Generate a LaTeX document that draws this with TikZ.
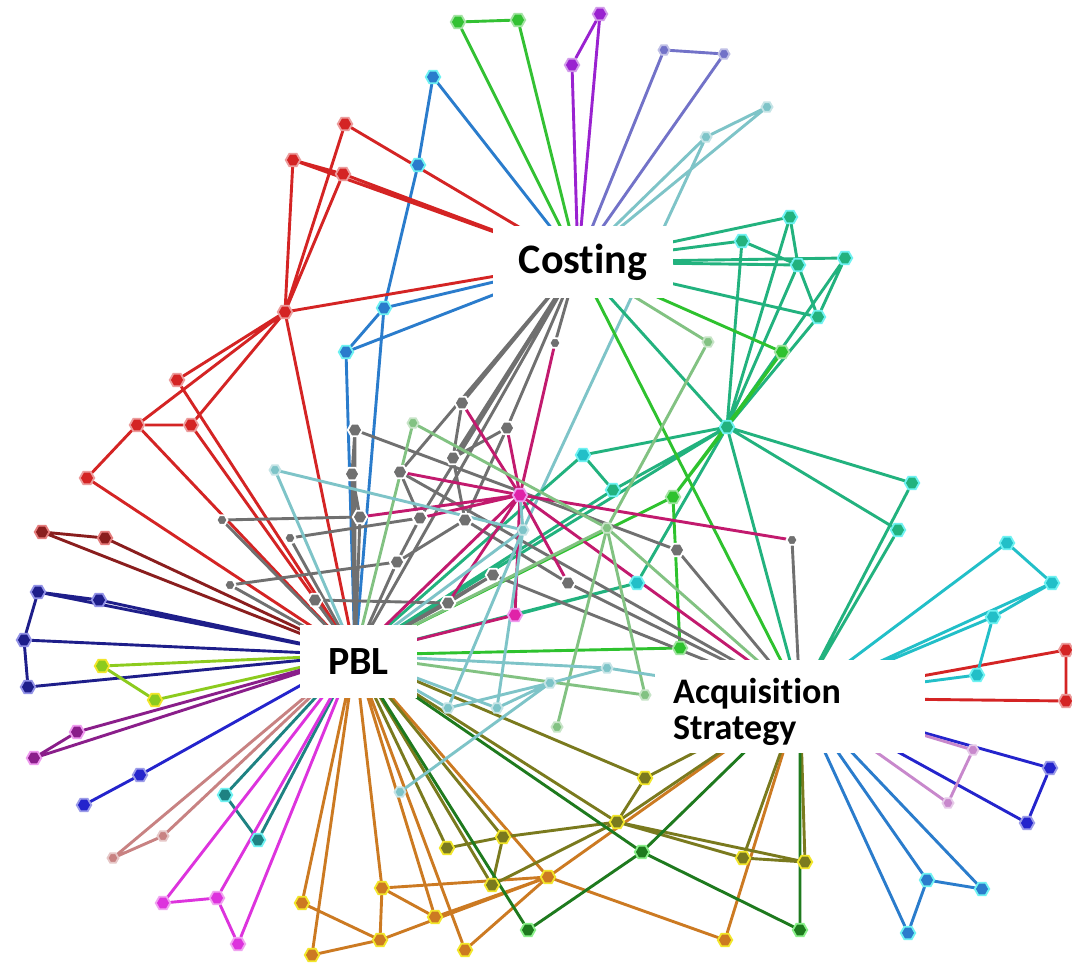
\documentclass[tikz,border=0pt]{standalone}
\usepackage{fontspec}
\newfontfamily\labfont{Carlito}[Ligatures=NoCommon]
\usetikzlibrary{shapes.geometric}
\definecolor{cRed}{HTML}{D42424}
\definecolor{cDRed}{HTML}{8A1E1E}
\definecolor{cNavy}{HTML}{1E1E8A}
\definecolor{cYG}{HTML}{8CCB1E}
\definecolor{cPurp}{HTML}{8A1E8A}
\definecolor{cBlue}{HTML}{2424CC}
\definecolor{cRosy}{HTML}{C88282}
\definecolor{cTeal}{HTML}{1E8282}
\definecolor{cMag}{HTML}{DD33DD}
\definecolor{cOrange}{HTML}{CC7A22}
\definecolor{cOlive}{HTML}{7A7A1E}
\definecolor{cDGreen}{HTML}{1E7A1E}
\definecolor{cSteel}{HTML}{2A7CCC}
\definecolor{cCyan}{HTML}{22BFC8}
\definecolor{cSea}{HTML}{22B27E}
\definecolor{cLime}{HTML}{2EC22E}
\definecolor{cLGreen}{HTML}{82C282}
\definecolor{cLTeal}{HTML}{7EC4C8}
\definecolor{cGray}{HTML}{707070}
\definecolor{cCrim}{HTML}{C21A6E}
\definecolor{cHub}{HTML}{E022A8}
\definecolor{cSlate}{HTML}{7272C8}
\definecolor{cGreen}{HTML}{33C133}
\definecolor{cViolet}{HTML}{9A22D0}
\definecolor{cOrchid}{HTML}{C888CC}
\definecolor{cHaloY}{HTML}{F2E62A}
\definecolor{cHaloC}{HTML}{6EF2F2}
\definecolor{cHaloG}{HTML}{8AF08A}
\pgfdeclarelayer{paper}
\pgfdeclarelayer{links}
\pgfsetlayers{paper,links,main}
\tikzset{
  nd/.style={regular polygon, regular polygon sides=6, minimum size=14.5pt,
    inner sep=0pt, fill=#1, draw=#1!45!white, line width=1.8pt},
  sm/.style={minimum size=11pt},
  ed/.style={draw=#1, line width=2.9pt, line cap=round},
  box/.style={fill=white, inner sep=0pt, font=\labfont\bfseries},
}
\begin{document}
\begin{tikzpicture}[x=1pt,y=-1pt]
\begin{pgfonlayer}{paper}
\fill[white] (0,0) rectangle (1072,965);
\end{pgfonlayer}
\useasboundingbox (0,0) rectangle (1072,965);

% hub points behind the label boxes
\coordinate (C) at (578,262);
\coordinate (P) at (355,655);
\coordinate (A) at (800,698);

% ---- nodes around Costing (top)
\node[nd=cGreen] (g1) at (458,22) {};
\node[nd=cGreen] (g2) at (518,20) {};
\node[nd=cViolet] (pu1) at (600,14) {};
\node[nd=cViolet] (pu2) at (572,65) {};
\node[nd=cSlate,sm] (sb1) at (664,50) {};
\node[nd=cSlate,sm] (sb2) at (724,54) {};
\node[nd=cLTeal,sm] (tl1) at (767,107) {};
\node[nd=cLTeal,sm] (tl2) at (706,137) {};
\node[nd=cSteel,draw=cHaloC] (b1) at (433,77) {};
\node[nd=cSteel,draw=cHaloC] (b2) at (418,165) {};
\node[nd=cSteel,draw=cHaloC] (b3) at (384,308) {};
\node[nd=cSteel,draw=cHaloC] (b4) at (346,352) {};
% red group
\node[nd=cRed] (r1) at (345,124) {};
\node[nd=cRed] (r2) at (293,160) {};
\node[nd=cRed] (r3) at (343,174) {};
\node[nd=cRed] (r4) at (285,312) {};
\node[nd=cRed] (r5) at (177,380) {};
\node[nd=cRed] (r6) at (137,425) {};
\node[nd=cRed] (r7) at (191,425) {};
\node[nd=cRed] (r8) at (87,478) {};
% groups around PBL
\node[nd=cDRed,draw=cRed!60!white] (dr1) at (42,532) {};
\node[nd=cDRed,draw=cRed!60!white] (dr2) at (105,538) {};
\node[nd=cNavy,draw=cBlue!50!white] (n1) at (38,592) {};
\node[nd=cNavy,draw=cBlue!50!white] (n2) at (99,600) {};
\node[nd=cNavy,draw=cBlue!50!white] (n3) at (24,640) {};
\node[nd=cNavy,draw=cBlue!50!white] (n4) at (28,687) {};
\node[nd=cYG,draw=cHaloY] (yg1) at (102,666) {};
\node[nd=cYG,draw=cHaloY] (yg2) at (155,700) {};
\node[nd=cPurp,draw=cMag!50!white] (pm1) at (77,732) {};
\node[nd=cPurp,draw=cMag!50!white] (pm2) at (34,758) {};
\node[nd=cBlue] (bl1) at (140,775) {};
\node[nd=cBlue] (bl2) at (84,805) {};
\node[nd=cRosy,sm] (rb1) at (163,836) {};
\node[nd=cRosy,sm] (rb2) at (113,858) {};
\node[nd=cTeal,draw=cHaloC] (td1) at (225,795) {};
\node[nd=cTeal,draw=cHaloC] (td2) at (258,840) {};
\node[nd=cMag] (m1) at (163,903) {};
\node[nd=cMag] (m2) at (217,898) {};
\node[nd=cMag] (m3) at (238,944) {};
% bottom groups
\node[nd=cOrange,draw=cHaloY] (o1) at (302,903) {};
\node[nd=cOrange,draw=cHaloY] (o2) at (312,955) {};
\node[nd=cOrange,draw=cHaloY] (o3) at (382,888) {};
\node[nd=cOrange,draw=cHaloY] (o4) at (435,917) {};
\node[nd=cOrange,draw=cHaloY] (o5) at (380,940) {};
\node[nd=cOrange,draw=cHaloY] (o6) at (465,950) {};
\node[nd=cOrange,draw=cHaloY] (o7) at (548,877) {};
\node[nd=cOrange,draw=cHaloY] (o8) at (725,940) {};
\node[nd=cOlive,draw=cHaloY] (ol1) at (447,848) {};
\node[nd=cOlive,draw=cHaloY] (ol2) at (503,837) {};
\node[nd=cOlive,draw=cHaloY] (ol3) at (492,885) {};
\node[nd=cOlive,draw=cHaloY] (ol4) at (617,822) {};
\node[nd=cOlive,draw=cHaloY] (ol5) at (645,778) {};
\node[nd=cOlive,draw=cHaloY] (ol6) at (743,858) {};
\node[nd=cOlive,draw=cHaloY] (ol7) at (805,862) {};
\node[nd=cDGreen,draw=cHaloG] (dg1) at (642,852) {};
\node[nd=cDGreen,draw=cHaloG] (dg2) at (528,930) {};
\node[nd=cDGreen,draw=cHaloG] (dg3) at (800,930) {};
% groups around Acquisition Strategy
\node[nd=cSteel,draw=cHaloC] (sa) at (927,880) {};
\node[nd=cSteel,draw=cHaloC] (sbb) at (982,889) {};
\node[nd=cSteel,draw=cHaloC] (sc) at (908,933) {};
\node[nd=cBlue] (nb1) at (1050,768) {};
\node[nd=cBlue] (nb2) at (1027,823) {};
\node[nd=cOrchid,sm] (or1) at (973,750) {};
\node[nd=cOrchid,sm] (or2) at (948,803) {};
\node[nd=cRed] (rr1) at (1066,650) {};
\node[nd=cRed] (rr2) at (1066,701) {};
\node[nd=cCyan,draw=cHaloC] (c1) at (1007,543) {};
\node[nd=cCyan,draw=cHaloC] (c2) at (1052,583) {};
\node[nd=cCyan,draw=cHaloC] (c3) at (993,617) {};
\node[nd=cCyan,draw=cHaloC] (c4) at (977,675) {};
% sea green group
\node[nd=cSea,draw=cHaloC] (sg1) at (790,217) {};
\node[nd=cSea,draw=cHaloC] (sg2) at (742,241) {};
\node[nd=cSea,draw=cHaloC] (sg3) at (798,265) {};
\node[nd=cSea,draw=cHaloC] (sg4) at (845,258) {};
\node[nd=cSea,draw=cHaloC] (sg5) at (818,317) {};
\node[nd=cSea,draw=cHaloC] (sg6) at (727,427) {};
\node[nd=cSea,draw=cHaloC] (sg7) at (912,483) {};
\node[nd=cSea,draw=cHaloC] (sg8) at (898,530) {};
\node[nd=cLime] (lime1) at (782,352) {};
\node[nd=cLime] (lime2) at (673,497) {};
\node[nd=cLime] (lime3) at (680,648) {};
% middle
\node[nd=cGray,draw=white,sm] (gray1) at (555,343) {};
\node[nd=cGray,draw=white] (gray2) at (462,403) {};
\node[nd=cGray,draw=white] (gray3) at (507,428) {};
\node[nd=cGray,draw=white] (gray4) at (355,430) {};
\node[nd=cGray,draw=white] (gray5) at (453,458) {};
\node[nd=cGray,draw=white] (gray6) at (400,472) {};
\node[nd=cGray,draw=white] (gray7) at (352,474) {};
\node[nd=cGray,draw=white] (gray8) at (360,517) {};
\node[nd=cGray,draw=white] (gray9) at (420,518) {};
\node[nd=cGray,draw=white] (gray10) at (465,520) {};
\node[nd=cGray,draw=white] (gray11) at (677,550) {};
\node[nd=cGray,draw=white] (gray12) at (397,562) {};
\node[nd=cGray,draw=white] (gray13) at (493,575) {};
\node[nd=cGray,draw=white] (gray14) at (568,583) {};
\node[nd=cGray,draw=white] (gray15) at (448,603) {};
\node[nd=cGray,draw=white,sm] (grayR) at (792,540) {};
\node[nd=cGray,draw=white,sm] (grayL1) at (222,520) {};
\node[nd=cGray,draw=white,sm] (grayL2) at (290,538) {};
\node[nd=cGray,draw=white,sm] (grayL3) at (230,585) {};
\node[nd=cGray,draw=white] (grayL4) at (315,600) {};
\node[nd=cHub,draw=cMag!50!white] (mg) at (520,495) {};
\node[nd=cHub,draw=cMag!50!white] (mg2) at (515,615) {};
\node[nd=cLGreen,sm] (lgreen1) at (708,342) {};
\node[nd=cLGreen,sm] (lgreen2) at (413,423) {};
\node[nd=cLGreen,sm] (lg3) at (607,528) {};
\node[nd=cCyan,draw=cHaloC] (cy1) at (583,455) {};
\node[nd=cSea,draw=cHaloC] (cy2) at (613,490) {};
\node[nd=cCyan,draw=cHaloC] (cy3) at (637,583) {};
\node[nd=cLTeal,sm] (ltc) at (275,470) {};
\node[nd=cLTeal,sm] (ltb1) at (523,530) {};
\node[nd=cLTeal,sm] (lb1) at (448,708) {};
\node[nd=cLTeal,sm] (lb2) at (497,708) {};
\node[nd=cLTeal,sm] (lb3) at (550,683) {};
\node[nd=cLTeal,sm] (lb4) at (607,668) {};
\node[nd=cLTeal,sm] (lb5) at (400,792) {};
\node[nd=cLGreen,sm] (lgr1) at (645,695) {};
\node[nd=cLGreen,sm] (lgr2) at (557,727) {};

\begin{pgfonlayer}{links}
% Costing side
\draw[ed=cGreen] (g1)--(g2) (g1)--(C) (g2)--(C);
\draw[ed=cViolet] (pu1)--(pu2) (pu1)--(C) (pu2)--(C);
\draw[ed=cSlate] (sb1)--(sb2) (sb1)--(C) (sb2)--(C);
\draw[ed=cLTeal] (tl1)--(tl2) (tl1)--(C) (tl2)--(C) (tl2)--(ltb1);
\draw[ed=cSteel] (b1)--(b2) (b1)--(C) (b2)--(b3) (b3)--(C) (b4)--(C)
  (b3)--(b4) (b3)--(P) (b4)--(P);
\draw[ed=cRed] (r1)--(C) (r2)--(C) (r3)--(C) (r2)--(r3) (r1)--(r4) (r3)--(r4)
  (r2)--(r4) (r4)--(C) (r4)--(P) (r4)--(r5) (r4)--(r6) (r4)--(r7) (r6)--(r7)
  (r6)--(r8) (r5)--(P) (r6)--(P) (r7)--(P) (r8)--(P);
% PBL side
\draw[ed=cDRed] (dr1)--(dr2) (dr1)--(P) (dr2)--(P);
\draw[ed=cNavy] (n1)--(n2) (n2)--(P) (n1)--(P) (n1)--(n3) (n3)--(P) (n3)--(n4) (n4)--(P);
\draw[ed=cYG] (yg1)--(yg2) (yg1)--(P) (yg2)--(P);
\draw[ed=cPurp] (pm1)--(pm2) (pm1)--(P) (pm2)--(P);
\draw[ed=cBlue] (bl1)--(bl2) (bl1)--(P);
\draw[ed=cRosy] (rb1)--(rb2) (rb1)--(P) (rb2)--(P);
\draw[ed=cTeal] (td1)--(td2) (td1)--(P) (td2)--(P);
\draw[ed=cMag] (m1)--(m2) (m2)--(m3) (m1)--(P) (m2)--(P) (m3)--(P);
% bottom
\draw[ed=cOrange] (o1)--(P) (o2)--(P) (o1)--(o5) (o2)--(o5) (o3)--(P) (o3)--(o5)
  (o3)--(o4) (o3)--(o7) (o4)--(P) (o4)--(o7) (o5)--(o7) (o6)--(P) (o6)--(o7)
  (o7)--(P) (o7)--(A) (o7)--(o8) (o8)--(A);
\draw[ed=cOlive] (ol1)--(P) (ol1)--(ol2) (ol2)--(ol4) (ol2)--(P) (ol2)--(ol3)
  (ol3)--(P) (ol3)--(ol4) (ol4)--(ol5) (ol4)--(P) (ol4)--(A) (ol4)--(ol6)
  (ol4)--(ol7) (ol5)--(P) (ol5)--(A) (ol6)--(ol7) (ol6)--(A) (ol7)--(A);
\draw[ed=cDGreen] (dg1)--(P) (dg1)--(dg2) (dg1)--(A) (dg1)--(dg3) (dg2)--(P) (dg3)--(A);
% Acquisition Strategy side
\draw[ed=cSteel] (sa)--(sbb) (sa)--(sc) (sa)--(A) (sbb)--(A) (sc)--(A);
\draw[ed=cBlue] (nb1)--(nb2) (nb1)--(A) (nb2)--(A);
\draw[ed=cOrchid] (or1)--(or2) (or1)--(A) (or2)--(A);
\draw[ed=cRed] (rr1)--(rr2) (rr1)--(A) (rr2)--(A);
\draw[ed=cCyan] (c1)--(c2) (c1)--(A) (c2)--(c3) (c2)--(A) (c3)--(A) (c3)--(c4) (c4)--(A);
% sea green group
\draw[ed=cSea] (sg1)--(C) (sg2)--(C) (sg3)--(C) (sg4)--(C) (sg5)--(C)
  (sg1)--(sg3) (sg2)--(sg3) (sg3)--(sg5) (sg4)--(sg5)
  (sg1)--(sg6) (sg2)--(sg6) (sg3)--(sg6) (sg4)--(sg6) (sg5)--(sg6)
  (sg6)--(sg7) (sg6)--(sg8) (sg7)--(A) (sg8)--(A) (sg6)--(A) (sg6)--(P)
  (sg6)--(cy1) (sg6)--(cy2) (sg6)--(cy3) (sg6)--(C)
  (cy1)--(cy2) (cy1)--(P) (cy2)--(P) (cy3)--(P) (cy3)--(mg2);
\draw[ed=cLime] (lime1)--(C) (lime1)--(sg6) (lime1)--(lime2) (lime2)--(lime3)
  (lime2)--(P) (lime3)--(P) (C)--(A) (lime2)--(sg6);
% middle
\draw[ed=cGray] (C)--(gray1) (C)--(gray2) (C)--(gray3) (C)--(gray5) (C)--(gray6)
  (C)--(P) (C)--(gray9) (gray2)--(gray5) (gray3)--(gray5) (gray3)--(gray10)
  (gray4)--(gray7) (gray4)--(gray11) (gray7)--(gray8) (gray7)--(P) (gray8)--(P)
  (gray6)--(gray9) (gray5)--(gray10) (gray9)--(gray12) (gray10)--(gray12)
  (gray12)--(P) (gray13)--(P) (gray15)--(P) (gray13)--(A) (gray14)--(A)
  (gray10)--(gray14) (gray11)--(A) (grayR)--(A) (grayL1)--(gray8) (grayL1)--(P)
  (grayL2)--(gray9) (grayL2)--(P) (grayL3)--(gray12) (grayL3)--(P)
  (grayL4)--(gray15) (grayL4)--(P) (gray6)--(A) (gray15)--(gray13) (gray4)--(P);
\draw[ed=cCrim] (mg)--(gray1) (mg)--(gray2) (mg)--(gray6) (mg)--(gray8) (mg)--(P)
  (mg)--(mg2) (mg)--(grayR) (mg)--(A) (mg)--(gray14) (mg)--(gray9) (mg)--(gray15)
  (mg)--(gray3) (mg2)--(P);
\draw[ed=cLGreen] (lgreen2)--(P) (lgreen2)--(lg3) (lgreen1)--(C) (lgreen1)--(lg3)
  (lg3)--(A) (lg3)--(P) (lgr2)--(lg3) (lgr1)--(P) (lgr1)--(lg3);
\draw[ed=cLTeal] (ltc)--(ltb1) (ltc)--(P) (ltb1)--(P) (ltb1)--(mg) (lb1)--(lb3)
  (lb2)--(lb3) (lb5)--(lb3) (lb1)--(P) (lb2)--(P) (lb3)--(lb4) (lb4)--(A)
  (lb4)--(P) (ltb1)--(lb2) (ltb1)--(lb1);
\end{pgfonlayer}

% label boxes
\node[box, minimum width=180pt, minimum height=72pt] (Cbox) at (583,262)
  {\fontsize{42}{50}\selectfont Costing};
\node[box, minimum width=117pt, minimum height=73pt] (Pbox) at (358.5,661.5)
  {\fontsize{40}{48}\selectfont PBL};
\node[box, minimum width=270pt, minimum height=93pt] (Abox) at (790,706.5) {};
\node[anchor=base west, inner sep=0pt, font=\labfont\bfseries\fontsize{36}{36}\selectfont]
  (Atop) at (673,703) {Acquisition};
\node[anchor=base west, inner sep=0pt, font=\labfont\bfseries\fontsize{36}{36}\selectfont]
  (Abot) at (673,739) {Strategy};
\end{tikzpicture}
\end{document}
